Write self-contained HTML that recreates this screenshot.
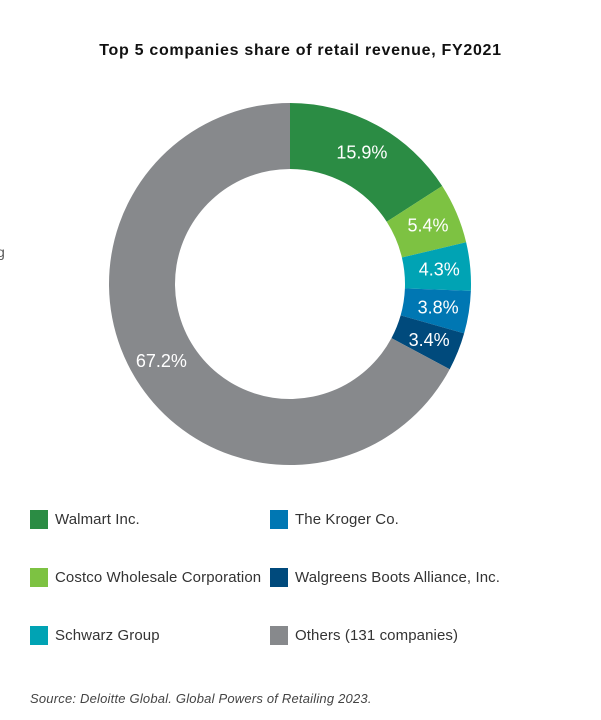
<!DOCTYPE html>
<html><head><meta charset="utf-8"><style>
body{margin:0;background:#fff;font-family:"Liberation Sans",sans-serif;}
#wrap{position:relative;width:601px;height:720px;overflow:hidden;}
.t{position:absolute;white-space:nowrap;}
.leg{position:absolute;font-size:15px;color:#333;letter-spacing:0.1px;}
.sw{position:absolute;width:18px;height:19px;}
</style></head><body>
<div id="wrap">
<div class="t" style="left:0;width:601px;text-align:center;top:42px;font-weight:bold;font-size:16px;letter-spacing:0.7px;color:#111;">Top 5 companies share of retail revenue, FY2021</div>
<div class="t" style="left:-3px;top:244px;font-size:14px;color:#555;">g</div>
<svg id="donut" width="601" height="480" style="position:absolute;left:0;top:0"></svg>
<div id="legend"></div>
<div class="t" style="left:30px;top:691px;font-size:13px;font-style:italic;color:#444;letter-spacing:0.2px;">Source: Deloitte Global. Global Powers of Retailing 2023.</div>
</div>
<script>
const categories=["Walmart Inc.","Costco Wholesale Corporation","Schwarz Group","The Kroger Co.","Walgreens Boots Alliance, Inc.","Others (131 companies)"];
const shares=[15.9,5.4,4.3,3.8,3.4,67.2];
const valueLabels=["15.9%","5.4%","4.3%","3.8%","3.4%","67.2%"];
const colors=["#2b8c44","#7dc242","#00a3b4","#0077b3","#004a7c","#87898c"];
const cx=290,cy=284,R=181,r=115,LR=150;
const svg=document.getElementById('donut');
const NS="http://www.w3.org/2000/svg";
const total=shares.reduce((a,b)=>a+b,0);
function pt(a,rad){return [cx+rad*Math.sin(a),cy-rad*Math.cos(a)];}
let acc=0;
shares.forEach((v,i)=>{
  const a0=acc/total*2*Math.PI; acc+=v; const a1=acc/total*2*Math.PI;
  const large=(a1-a0)>Math.PI?1:0;
  const p0=pt(a0,R),p1=pt(a1,R),q1=pt(a1,r),q0=pt(a0,r);
  const path=document.createElementNS(NS,'path');
  path.setAttribute('d',`M${p0[0]},${p0[1]}A${R},${R} 0 ${large} 1 ${p1[0]},${p1[1]}L${q1[0]},${q1[1]}A${r},${r} 0 ${large} 0 ${q0[0]},${q0[1]}Z`);
  path.setAttribute('fill',colors[i]);
  
  
  svg.appendChild(path);
  const am=(a0+a1)/2, lp=pt(am,LR);
  const t=document.createElementNS(NS,'text');
  t.setAttribute('x',lp[0]);t.setAttribute('y',lp[1]+6);
  t.setAttribute('text-anchor','middle');t.setAttribute('fill','#fff');
  t.setAttribute('font-size','18');t.setAttribute('font-family','Liberation Sans, sans-serif');
  
  
  t.textContent=valueLabels[i];
  svg.appendChild(t);
});
const leg=document.getElementById('legend');
const order=[0,3,1,4,2,5];
order.forEach((ci,k)=>{
  const col=k%2,row=Math.floor(k/2);
  const x=col?270:30,y=510+row*58;
  const s=document.createElement('div');
  s.className='sw';s.style.left=x+'px';s.style.top=y+'px';s.style.background=colors[ci];
  
  
  leg.appendChild(s);
  const l=document.createElement('div');
  l.className='leg';l.style.left=(x+25)+'px';l.style.top=(y+1)+'px';l.textContent=categories[ci];
  
  
  leg.appendChild(l);
});
</script>
</body></html>
